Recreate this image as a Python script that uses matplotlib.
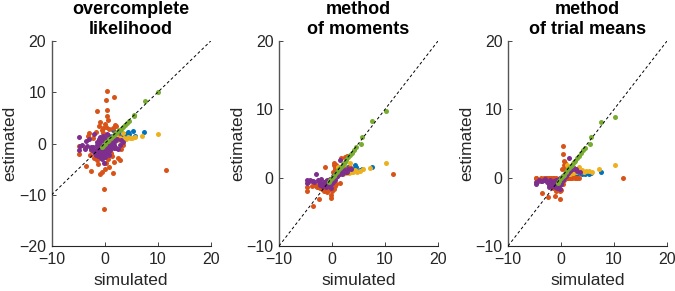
import matplotlib
matplotlib.use("Agg")
import matplotlib.pyplot as plt

plt.rcParams['font.family'] = ['Liberation Sans', 'DejaVu Sans']

# panel titles and axis limits
titles = ["overcomplete\nlikelihood", "method\nof moments", "method\nof trial means"]
ylims = [(-20, 20), (-10, 20), (-10, 20)]
yticks = [[-20, -10, 0, 10, 20], [-10, 0, 10, 20], [-10, 0, 10, 20]]

# MATLAB default colours
c_blue = '#0072BD'
c_orange = '#D95319'
c_yellow = '#EDB120'
c_purple = '#7E2F8E'
c_green = '#77AC30'

# green group
green_sim = [10.1, 7.6, 5.6, 5.5, 4.6, 4.2, 3.8, 3.4, 3.0, 2.7,
             2.4, 2.1, 1.8, 1.5, 1.2, 0.9, 0.6, 0.3, 0.0, -0.3, -0.6]
green_est1 = [10.0, 8.2, 5.6, 5.4, 4.4, 4.0, 3.7, 3.2, 2.8, 2.6,
              2.2, 2.0, 1.6, 1.4, 1.0, 0.8, 0.5, 0.2, -0.1, -0.4, -0.7]
green_est2 = [9.8, 8.3, 6.0, 5.0, 4.5, 4.1, 3.6, 3.3, 3.0, 2.6,
              2.3, 2.0, 1.7, 1.4, 1.1, 0.8, 0.5, 0.2, -0.1, -0.4, -0.7]
green_est3 = [8.9, 8.1, 5.9, 4.9, 4.4, 4.1, 3.6, 3.2, 2.9, 2.5,
              2.3, 1.9, 1.7, 1.4, 1.1, 0.8, 0.4, 0.2, -0.1, -0.5, -0.8]

# blue group
blue_sim = [7.5, 5.3, 4.6, 4.3, 3.8, 3.5, 3.1, 2.8, 2.5, 2.2,
            1.9, 1.6, 1.4, 1.2, 1.0, 0.8, 0.6, 0.4, 2.0, 3.0, 4.0, 5.7]
blue_est1 = [2.3, 2.4, 1.9, 2.3, 1.8, 1.5, 2.2, 2.0, 1.6, 1.3,
             1.8, 2.6, 1.5, 1.2, 1.0, 1.1, 0.7, 0.5, 0.9, 1.1, 1.4, 1.5]
blue_est2 = [1.6, 1.1, 1.6, 1.8, 1.3, 1.2, 1.5, 1.1, 0.9, 1.0,
             0.8, 1.6, 0.7, 0.9, 0.6, 0.5, 0.4, 0.3, 1.2, 0.9, 1.0, 1.2]
blue_est3 = [0.8, 0.6, 0.6, 0.8, 0.7, 0.9, 0.6, 0.7, 0.8, 0.5,
             0.6, 0.9, 0.5, 0.4, 0.5, 0.3, 0.3, 0.2, 0.9, 0.7, 0.6, 0.7]

# yellow group
yellow_sim = [10.1, 7.1, 5.8, 5.2, 4.8, 4.4, 4.0, 3.6, 3.2, 2.9,
              2.6, 2.3, 2.0, 1.7, 1.4, 1.1, 0.9, 0.6, 0.3, 3.4, 2.2, 1.2]
yellow_est1 = [1.9, 1.4, 1.2, 1.1, 1.0, 1.2, 0.9, 1.0, 0.8, 1.1,
               0.7, 0.9, 0.6, 0.8, 0.5, 0.6, 0.4, 0.3, 0.2, 2.0, 1.5, 1.0]
yellow_est2 = [2.2, 1.4, 1.2, 1.0, 0.9, 1.1, 0.8, 0.9, 0.7, 1.0,
               0.7, 0.8, 0.6, 0.7, 0.5, 0.6, 0.4, 0.3, 0.2, 2.2, 2.0, 1.5]
yellow_est3 = [1.8, 1.2, 0.9, 1.0, 1.0, 0.9, 1.1, 0.9, 1.0, 0.8,
               1.0, 0.7, 0.9, 0.6, 0.7, 0.5, 0.4, 0.3, 0.2, 1.5, 2.2, 1.8]

# orange group
orange_sim = [0.4, 1.7, 0.3, -1.4, 0.5, 0.5, 11.6, -0.2, -0.2, -2.5,
              -3.5, 1.5, 2.5, 2.8, -4.8, -4.8, -3.2, -1.6, -1.0, 0.2,
              0.8, 1.5, 2.2, 0.6, 0.3, 0.8, -0.5, -1.2, -2.0, 3.0,
              1.0, -1.8, -0.8, -2.8, -0.3, 1.2, -3.8, 0.0, 1.9, -0.6,
              -2.2, -1.0, 0.9, 2.6, -0.4, 1.3, -3.0, -1.5, 0.7, 3.4,
              -2.6, 0.1, 1.8, -0.9, 2.0]
orange_est1 = [10.2, 9.0, 8.5, 6.3, 6.5, 5.4, -5.1, -8.8, -12.8, -5.4,
               -4.3, -5.8, -2.9, -3.3, -2.0, -0.5, 1.5, 2.3, 3.5, 3.3,
               2.8, 3.0, 3.4, -3.0, -3.8, -4.5, -5.5, -4.0, -2.8, -1.0,
               1.0, -1.5, 4.2, -2.2, 2.0, -1.8, -0.8, -5.0, 3.6, 2.6,
               1.0, -2.6, -1.9, 1.5, 3.1, -2.5, 2.0, -3.3, 4.5, -0.2,
               -1.2, 3.9, -3.6, -6.0, 2.1]
orange_est2 = [2.2, 2.9, 1.8, 1.5, 1.6, 1.2, 0.5, -3.0, -2.6, -3.1,
               -4.1, -0.8, 3.0, 3.2, -2.0, -1.4, -1.1, -1.2, -0.5, 0.9,
               1.2, 1.5, 2.0, -1.2, -1.6, -0.9, -1.6, -1.8, -1.5, 1.2,
               0.6, -1.6, -0.8, -1.3, -1.1, 0.9, -1.2, -1.9, 1.5, -1.7,
               -1.5, -1.3, 0.5, 1.2, -1.0, 0.8, -1.2, -1.9, 1.9, 1.5,
               -1.4, -0.6, 1.3, -2.1, 1.6]
orange_est3 = [4.6, 1.6, 3.4, -0.1, 2.5, 1.9, 0.0, -3.1, -1.9, -2.9,
               -2.2, 0.0, 0.1, 0.0, -0.1, 0.0, -0.1, -0.1, -0.2, 1.2,
               1.3, 0.0, 0.1, -0.3, -0.9, 0.0, -1.0, -2.7, -1.2, 0.0,
               0.0, 0.0, -1.4, 0.0, -0.6, 0.0, 0.0, -1.8, 0.0, -0.4,
               0.0, 0.0, 0.0, 0.0, -0.8, 0.0, 0.0, -1.5, 2.2, 0.0,
               0.0, -0.5, 0.0, -2.0, 0.0]

# purple group
purple_sim = [-4.8, -4.8, -4.6, -4.2, -3.8, -3.3, -3.0, -2.6, -2.3, -2.0,
              -1.8, -1.6, -1.4, -1.2, -1.0, -0.9, -0.8, -0.7, -0.6, -0.5,
              -0.4, -0.3, -0.2, -0.1, 0.0, 0.1, 0.2, 0.3, 0.4, 0.5,
              0.6, 0.7, 0.8, 0.9, 1.0, 1.2, 1.4, 1.6, 1.8, 2.0,
              2.3, 2.6, 3.0, 3.5, -1.5, -1.1, -0.5, 0.0, 0.5, 1.0,
              -2.2, -0.8, 0.3, 1.3, -0.1, -1.3, -0.6, 0.2, 0.7, 1.5,
              -1.7, -1.3, -0.9, -0.4, 0.1, 0.6, 1.1, 1.7, 2.1, -2.5,
              -0.2, 0.4, 0.9, -1.0, 1.9, -0.7, 0.0, 2.8, -3.6, 0.8]
purple_est1 = [1.2, -1.3, -0.5, -0.2, -1.0, -0.4, 0.8, -0.6, -1.5, 1.8,
               -2.0, -1.2, 0.2, -2.5, -1.8, 1.2, -0.9, -2.8, 0.6, -1.5,
               -0.8, 1.5, -2.2, -3.8, 0.3, -1.0, 0.8, -0.5, 1.0, -1.6,
               0.2, 1.6, -0.3, 0.9, -1.2, 1.1, -0.1, 0.6, -0.8, 0.4,
               0.9, -1.0, 0.6, 0.3, -0.3, 0.5, -2.6, -1.4, 1.8, 0.0,
               -0.7, 0.0, -1.8, 1.0, -0.4, -1.1, -3.0, 0.4, -0.6, -0.4,
               -2.3, -0.5, -1.5, -1.2, -2.0, -1.8, -0.6, -0.2, -0.9, -1.0,
               0.6, -1.1, -2.2, 0.9, 0.8, -1.9, -2.6, -0.2, 0.5, -1.5]
purple_est2 = [-0.3, -0.8, -0.6, -0.4, -0.5, -0.7, 0.5, -0.4, -0.9, -0.2,
               -1.2, -0.6, -0.8, -1.3, -0.9, -0.4, -0.7, -1.1, -0.3, -0.8,
               -0.5, -0.2, -0.9, -1.5, -0.3, -0.6, 0.2, -0.1, 0.3, -0.4,
               0.4, 0.7, 0.1, 0.6, 0.3, 0.8, 0.5, 0.9, 0.6, 1.0,
               1.1, 0.9, 1.2, 1.3, -0.9, -0.5, -1.0, -0.7, 0.5, 0.2,
               -1.1, -0.5, -0.4, 0.7, -0.2, -0.7, -1.2, 0.0, 0.4, 2.6,
               -0.9, -0.9, -1.0, -0.6, -0.2, 0.1, 0.4, 0.8, 0.7, -0.7,
               -0.5, 0.0, 0.3, -0.7, 1.1, -0.9, -0.8, 0.9, -0.5, 0.5]
purple_est3 = [-0.9, -0.6, -0.7, -0.4, -0.5, -0.3, -0.2, -0.6, -1.0, -0.4,
               -0.8, -1.2, -0.5, -1.4, -0.9, -0.3, -1.1, -1.5, -0.6, -0.8,
               -0.4, -0.2, -1.0, -1.6, -0.3, -0.5, 0.1, -0.2, 0.3, 0.0,
               0.2, 0.5, 0.3, 0.6, 0.4, 0.9, 0.7, 1.1, 1.4, 1.2,
               1.5, 1.3, 1.0, 0.8, -1.0, -0.6, -1.2, -0.8, 0.4, 0.2,
               -1.3, -0.4, -0.3, 0.8, -0.1, -0.7, -1.4, 0.1, 0.5, 2.9,
               -1.1, -1.0, -0.8, -0.7, -0.2, 0.2, 0.5, 1.0, 1.3, -0.6,
               -0.6, 0.0, 0.4, -1.2, 1.6, -1.2, -0.9, 1.2, -0.5, 0.6]

groups = [
    (c_blue, blue_sim, [blue_est1, blue_est2, blue_est3]),
    (c_orange, orange_sim, [orange_est1, orange_est2, orange_est3]),
    (c_yellow, yellow_sim, [yellow_est1, yellow_est2, yellow_est3]),
    (c_purple, purple_sim, [purple_est1, purple_est2, purple_est3]),
    (c_green, green_sim, [green_est1, green_est2, green_est3]),
]

fig = plt.figure(figsize=(6.75, 2.91), dpi=100)
lefts = [0.0766, 0.4133, 0.7526]
axc = '#262626'

for i in range(3):
    ax = fig.add_axes([lefts[i], 0.1546, 0.2356, 0.7045])
    for col, xs, ests in groups:
        ax.plot(xs, ests[i], 'o', color=col, markersize=3.6,
                markeredgewidth=0, linestyle='none')
    ax.plot([-10, 20], [-10, 20], color='black', linestyle=(0, (3, 2.5)),
            linewidth=0.7, zorder=5)
    ax.set_xlim(-10, 20)
    ax.set_ylim(*ylims[i])
    ax.set_xticks([-10, 0, 10, 20])
    ax.set_yticks(yticks[i])
    ax.spines['top'].set_visible(False)
    ax.spines['right'].set_visible(False)
    ax.spines['left'].set_color('#555555')
    ax.spines['left'].set_linewidth(1.0)
    ax.spines['bottom'].set_color(axc)
    ax.spines['bottom'].set_linewidth(0.8)
    ax.tick_params(direction='in', length=3, width=0.6, colors=axc,
                   labelsize=11.5)
    ax.tick_params(axis='x', pad=4.5)
    ax.tick_params(axis='y', pad=4)
    ax.set_xlabel('simulated', fontsize=12.5, color=axc, labelpad=4)
    ax.set_ylabel('estimated', fontsize=12.5, color=axc, labelpad=1)
    ax.set_title(titles[i], fontsize=13, fontweight='bold', color='black',
                 pad=5, linespacing=1.2)

fig.savefig('out.png', dpi=100)
